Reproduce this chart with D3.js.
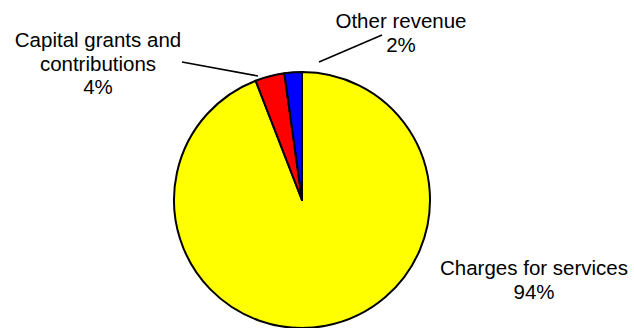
<!DOCTYPE html>
<html>
<head>
<meta charset="utf-8">
<script src="https://cdn.jsdelivr.net/npm/d3@7"></script>
<style>
  html, body { margin: 0; padding: 0; background: #fff; }
  svg { display: block; }
  text { font-family: "Liberation Sans", Arial, sans-serif; font-size: 20.5px; fill: #000; }
</style>
</head>
<body>
<svg id="chart" width="634" height="328"></svg>
<script>
// Revenue sources (share of total, %)
const categories = ["Charges for services", "Capital grants and contributions", "Other revenue"];
const values = [94.1, 3.7, 2.2];
const percentLabels = ["94%", "4%", "2%"];
const colors = ["#FFFF00", "#FF0000", "#0000FF"];

const svg = d3.select("#chart");
const cx = 302, cy = 200, radius = 128;

const pie = d3.pie().sort(null).value(d => d)(values);
const arc = d3.arc().innerRadius(0).outerRadius(radius);

const g = svg.append("g").attr("transform", `translate(${cx},${cy})`);
g.selectAll("path")
  .data(pie)
  .join("path")
  .attr("d", arc)
  .attr("fill", (d, i) => colors[i])
  .attr("stroke", "#000")
  .attr("stroke-width", 2)
  .attr("stroke-linejoin", "round");

// Label placement: text lines, centre x, first baseline, optional leader line
const labelLayout = [
  { lines: ["Charges for services"], x: 534, y: 275, leader: null },
  { lines: ["Capital grants and", "contributions"], x: 98, y: 47, leader: [[182, 62], [258, 76]] },
  { lines: ["Other revenue"], x: 401, y: 28, leader: [[319, 62], [382, 35]] }
];
const lineGap = 23.7;

labelLayout.forEach((L, i) => {
  if (L.leader) {
    svg.append("line")
      .attr("x1", L.leader[0][0]).attr("y1", L.leader[0][1])
      .attr("x2", L.leader[1][0]).attr("y2", L.leader[1][1])
      .attr("stroke", "#000").attr("stroke-width", 1.6);
  }
  const t = svg.append("text").attr("text-anchor", "middle");
  const all = L.lines.concat([percentLabels[i]]);
  all.forEach((s, k) => {
    t.append("tspan").attr("x", L.x).attr("y", L.y + k * lineGap).text(s);
  });
});
</script>
</body>
</html>
